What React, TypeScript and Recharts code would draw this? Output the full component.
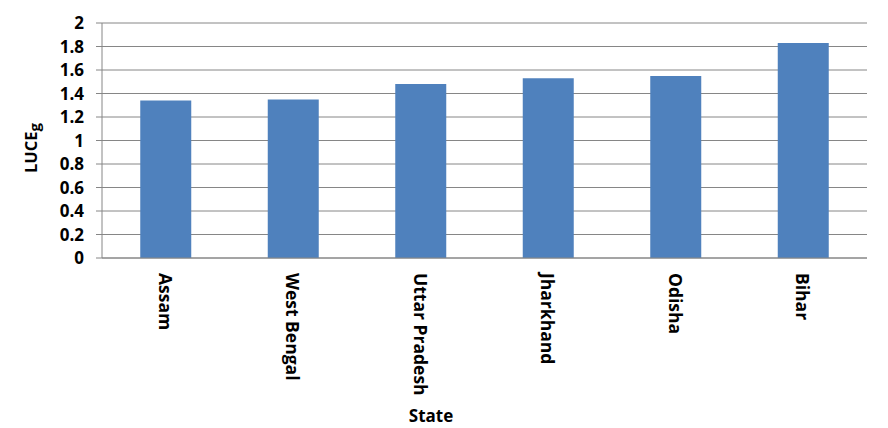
import React from "react";
import { Bar, BarChart, CartesianGrid, XAxis, YAxis } from "recharts";

const states = ["Assam", "West Bengal", "Uttar Pradesh", "Jharkhand", "Odisha", "Bihar"];
const luceValues = [1.34, 1.35, 1.48, 1.53, 1.55, 1.83];
const yTicks = [0, 0.2, 0.4, 0.6, 0.8, 1, 1.2, 1.4, 1.6, 1.8, 2];

const data = states.map((state, i) => ({ state, value: luceValues[i] }));

const FONT = "'Open Sans', 'Liberation Sans', sans-serif";
const GRID = "#868686";

function StateTick({ x, y, payload }: any) {
  return (
    <text
      transform={`translate(${x},${y + 7}) rotate(90)`}
      textAnchor="start"
      dominantBaseline="central"
      fontFamily={FONT}
      fontWeight={700}
      fontSize={17.5}
      fill="#000"
    >
      {payload.value}
    </text>
  );
}

export default function App() {
  return (
    <div style={{ position: "absolute", left: 0, top: 0, width: 888, height: 428, background: "#fff" }}>
      <BarChart
        width={888}
        height={428}
        data={data}
        margin={{ top: 23, right: 21, left: 0, bottom: 0 }}
        barCategoryGap="30%"
      >
        <CartesianGrid vertical={false} stroke={GRID} strokeWidth={1} />
        <XAxis
          dataKey="state"
          height={170}
          interval={0}
          stroke={GRID}
          tickLine={false}
          tick={<StateTick />}
        />
        <YAxis
          width={102}
          domain={[0, 2]}
          ticks={yTicks}
          interval={0}
          stroke={GRID}
          tickSize={6}
          tickMargin={12}
          tick={{ fill: "#000", fontFamily: FONT, fontWeight: 700, fontSize: 17 }}
        />
        <Bar dataKey="value" fill="#4F81BD" isAnimationActive={false} />
        <text
          transform="translate(30,148) rotate(-90)"
          textAnchor="middle"
          dominantBaseline="central"
          fontFamily={FONT}
          fontWeight={700}
          fontSize={16.5}
          fill="#000"
        >
          LUCE
          <tspan fontSize={15} dy={4}>g</tspan>
        </text>
        <text
          x={431}
          y={415}
          textAnchor="middle"
          dominantBaseline="central"
          fontFamily={FONT}
          fontWeight={700}
          fontSize={17}
          fill="#000"
        >
          State
        </text>
      </BarChart>
    </div>
  );
}
